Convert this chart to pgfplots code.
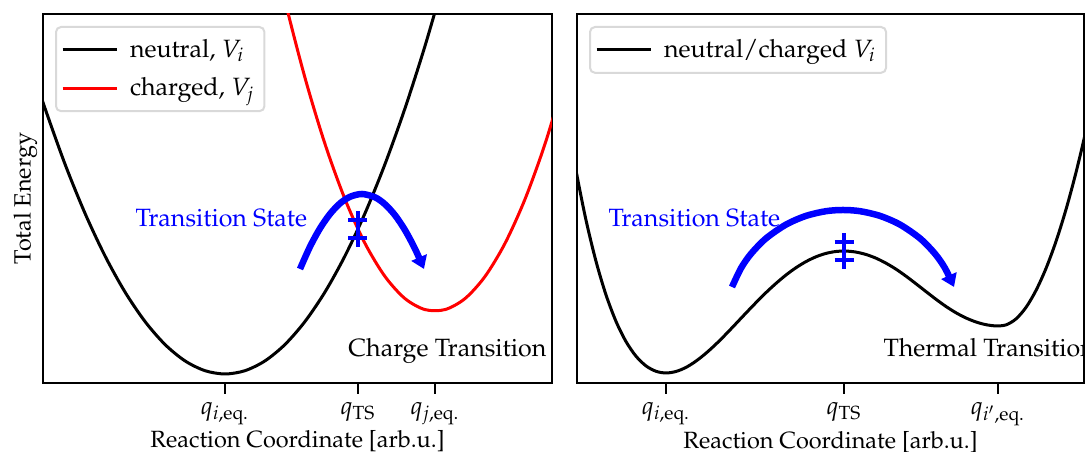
\documentclass[border=0pt]{standalone}
\usepackage[T1]{fontenc}
\usepackage{mathpazo}
\usepackage{pgfplots}
\pgfplotsset{compat=1.18}
\usetikzlibrary{arrows.meta}

% double-dagger marker for the transition state
\pgfdeclareplotmark{ddag}{%
  \pgfsetlinewidth{1.4pt}%
  \pgfsetbuttcap
  \pgfpathmoveto{\pgfpoint{0pt}{-7.2pt}}\pgfpathlineto{\pgfpoint{0pt}{7.2pt}}%
  \pgfpathmoveto{\pgfpoint{-3.8pt}{3.6pt}}\pgfpathlineto{\pgfpoint{3.8pt}{3.6pt}}%
  \pgfpathmoveto{\pgfpoint{-3.8pt}{-3.6pt}}\pgfpathlineto{\pgfpoint{3.8pt}{-3.6pt}}%
  \pgfusepathqstroke}

\pgfplotsset{
  energy/.style={
    scale only axis,
    height=147.6pt,
    axis line style={line width=0.8pt},
    ytick=\empty,
    xtick pos=left,
    xtick align=outside,
    major tick length=4.4pt,
    tick style={line width=0.8pt, black},
    clip=true,
    legend cell align=left,
    legend style={at={(0,1)}, anchor=north west, xshift=4.8pt, yshift=-4.8pt,
      draw=black!15, line width=0.8pt, rounded corners=2pt, fill=white,
      inner xsep=2pt, inner ysep=2.8pt, row sep=2.6pt, column sep=2.8pt},
    legend image code/.code={\draw[##1, line width=1.2pt] (0pt,0pt) -- (21.6pt,0pt);},
    xlabel={Reaction Coordinate [arb.u.]},
    label style={font=\fontsize{9.4}{11}\selectfont},
    xlabel shift=-4.6pt,
    ylabel shift=-1.2pt,
  },
  curve/.style={line width=1.2pt, smooth},
  hop/.style={blue, line width=2.6pt, smooth, -{Triangle[length=5pt, width=6.5pt]}},
}

\begin{document}
\begin{tikzpicture}
\useasboundingbox (-17.2pt,-27.6pt) rectangle (416.8pt,153.2pt);

% ---- charge transition: two crossing parabolas ----
\begin{axis}[energy, width=203.6pt,
  xmin=-1.82, xmax=3.27, ymin=-0.09, ymax=3.60,
  xtick={0,1.33,2.10},
  xticklabels={$q_{i,\mathrm{eq.}}$, $q_{\mathrm{TS}}$, $q_{j,\mathrm{eq.}}$},
  ylabel={Total Energy}]
\addplot[curve, black] coordinates {
  (-1.9,2.960) (-1.8,2.657) (-1.6,2.099) (-1.4,1.607) (-1.2,1.181) (-1.0,0.820)
  (-0.8,0.525) (-0.6,0.295) (-0.4,0.131) (-0.2,0.033) (0,0) (0.2,0.033)
  (0.4,0.131) (0.6,0.295) (0.8,0.525) (1.0,0.820) (1.2,1.181) (1.4,1.607)
  (1.6,2.099) (1.8,2.657) (2.0,3.280) (2.2,3.969)};
\addlegendentry{neutral, $V_i$}
\addplot[curve, red] coordinates {
  (0.4,4.618) (0.6,3.735) (0.8,2.962) (1.0,2.300) (1.2,1.748) (1.4,1.306)
  (1.6,0.975) (1.8,0.754) (2.0,0.644) (2.2,0.644) (2.4,0.754)
  (2.6,0.975) (2.8,1.306) (3.0,1.748) (3.2,2.300) (3.4,2.962)};
\addlegendentry{charged, $V_j$}
\addplot[hop, forget plot] coordinates {
  (0.75,1.050) (0.85,1.273) (0.95,1.456) (1.05,1.600) (1.15,1.706) (1.25,1.772)
  (1.37,1.800) (1.50,1.767) (1.60,1.697) (1.70,1.588) (1.80,1.439) (1.90,1.252)
  (1.99,1.050)};
\addplot[blue, only marks, mark=ddag, forget plot] coordinates {(1.33,1.45)};
\node[blue, anchor=base west, inner sep=0pt] at (axis cs:-0.90,1.47) {Transition State};
\node[anchor=base west, inner sep=0pt] at (axis cs:1.23,0.17) {Charge Transition};
\end{axis}

% ---- thermal transition: double well ----
\begin{axis}[energy, width=202.8pt, at={(213.6pt,0pt)},
  xmin=-0.89, xmax=4.18, ymin=-0.10, ymax=3.59,
  xtick={0,1.78,3.32},
  xticklabels={$q_{i,\mathrm{eq.}}$, $q_{\mathrm{TS}}$, $q_{i',\mathrm{eq.}}$}]
\addplot[curve, black] coordinates {
  (-1.0,2.619) (-0.9,2.027) (-0.8,1.529) (-0.7,1.117) (-0.6,0.781) (-0.5,0.516)
  (-0.4,0.314) (-0.3,0.168) (-0.2,0.071) (-0.1,0.017) (0.0,0.000) (0.1,0.015)
  (0.2,0.056) (0.3,0.119) (0.4,0.198) (0.5,0.289) (0.6,0.389) (0.7,0.494)
  (0.8,0.600) (0.9,0.704) (1.0,0.804) (1.1,0.896) (1.2,0.980) (1.3,1.053)
  (1.4,1.114) (1.5,1.162) (1.6,1.196) (1.7,1.215) (1.8,1.219) (1.9,1.209)
  (2.0,1.185) (2.1,1.148) (2.2,1.098) (2.3,1.038) (2.4,0.968) (2.5,0.892)
  (2.6,0.814) (2.7,0.737) (2.8,0.665) (2.9,0.602) (3.0,0.550) (3.1,0.510)
  (3.2,0.483) (3.3,0.471) (3.4,0.481) (3.5,0.541) (3.6,0.656) (3.7,0.826)
  (3.8,1.046) (3.9,1.316) (4.0,1.636) (4.1,2.006) (4.2,2.426) (4.3,2.900)};
\addlegendentry{neutral/charged $V_i$}
\addplot[hop, forget plot] coordinates {
  (0.66,0.860) (0.75,1.048) (0.85,1.192) (1.00,1.346) (1.20,1.484) (1.40,1.571)
  (1.60,1.618) (1.77,1.630) (1.94,1.618) (2.14,1.571) (2.34,1.484) (2.54,1.346)
  (2.69,1.192) (2.79,1.048) (2.88,0.860)};
\addplot[blue, only marks, mark=ddag, forget plot] coordinates {(1.78,1.22)};
\node[blue, anchor=base west, inner sep=0pt] at (axis cs:-0.58,1.46) {Transition State};
\node[anchor=base west, inner sep=0pt] at (axis cs:2.17,0.16) {Thermal Transition};
\end{axis}
\end{tikzpicture}
\end{document}
